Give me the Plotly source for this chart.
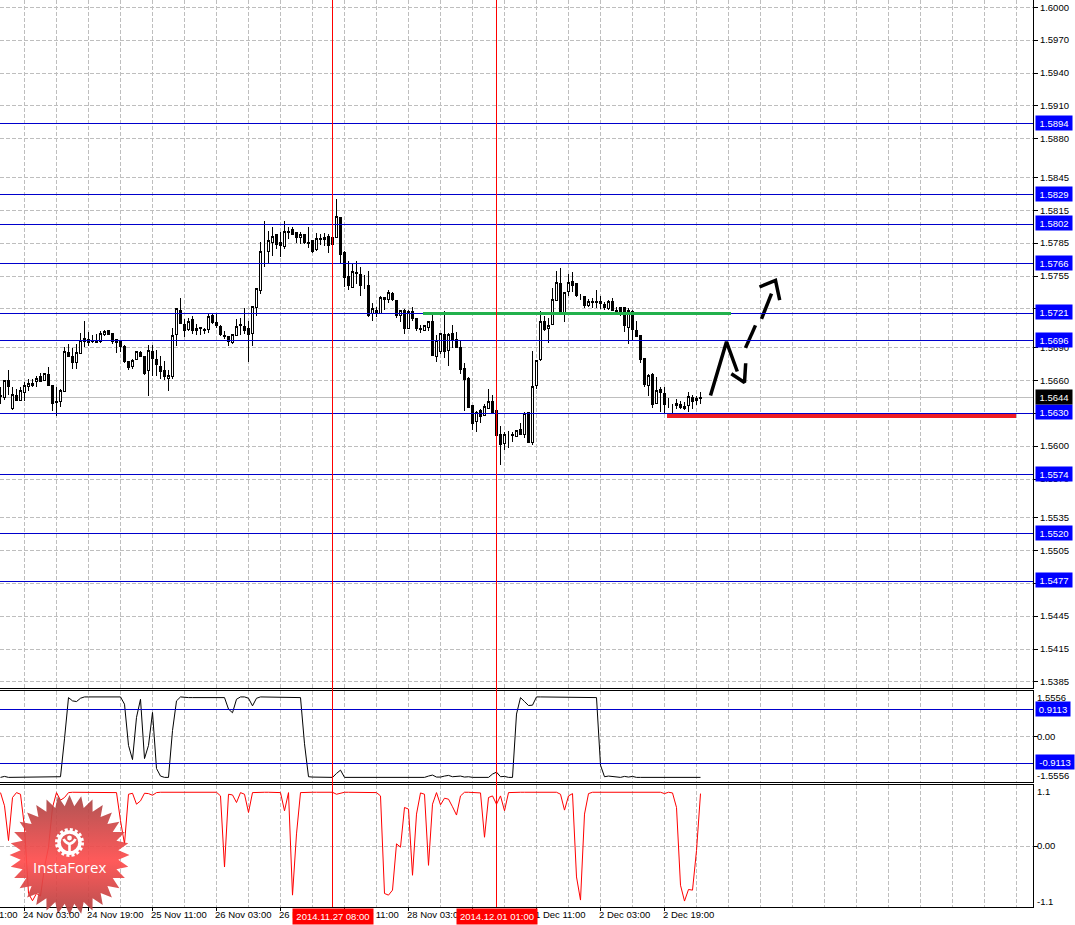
import base64
import numpy as np
import plotly.graph_objects as go

# ---- candle data (hourly GBP chart, index = bar number) ----
opens = [1.5646,1.5644,1.5660,1.5634,1.5646,1.5642,1.5649,1.5654,1.5657,1.5659,1.5663,1.5660,1.5665,1.5655,1.5641,1.5641,1.5650,1.5685,1.5682,1.5676,
1.5684,1.5695,1.5697,1.5696,1.5695,1.5695,1.5702,1.5705,1.5703,1.5697,1.5695,1.5691,1.5677,1.5673,1.5679,1.5685,1.5682,1.5669,1.5686,1.5679,
1.5673,1.5669,1.5662,1.5663,1.5702,1.5724,1.5711,1.5706,1.5715,1.5705,1.5708,1.5706,1.5706,1.5719,1.5713,1.5709,1.5701,1.5700,1.5694,1.5701,
1.5711,1.5709,1.5707,1.5703,1.5726,1.5742,1.5776,1.5777,1.5786,1.5793,1.5786,1.5782,1.5796,1.5797,1.5795,1.5790,1.5793,1.5786,1.5787,1.5779,
1.5789,1.5788,1.5791,1.5790,1.5790,1.5808,1.5776,1.5755,1.5745,1.5758,1.5756,1.5747,1.5746,1.5721,1.5724,1.5721,1.5735,1.5734,1.5739,1.5733,
1.5719,1.5724,1.5707,1.5723,1.5716,1.5707,1.5705,1.5708,1.5714,1.5682,1.5686,1.5702,1.5687,1.5703,1.5697,1.5690,1.5671,1.5662,1.5637,1.5622,
1.5632,1.5628,1.5634,1.5641,1.5632,1.5611,1.5602,1.5610,1.5611,1.5609,1.5615,1.5611,1.5631,1.5603,1.5655,1.5679,1.5714,1.5707,1.5711,1.5733,
1.5748,1.5720,1.5741,1.5750,1.5748,1.5737,1.5736,1.5728,1.5732,1.5732,1.5732,1.5729,1.5725,1.5732,1.5724,1.5726,1.5726,1.5708,1.5723,1.5705,
1.5701,1.5680,1.5655,1.5665,1.5639,1.5652,1.5648,1.5637,1.5636,1.5637,1.5638,1.5636,1.5637,1.5644,1.5643,1.5644]
highs = [1.5654,1.5660,1.5669,1.5654,1.5652,1.5654,1.5658,1.5661,1.5661,1.5664,1.5667,1.5667,1.5672,1.5655,1.5654,1.5652,1.5690,1.5693,1.5689,1.5693,
1.5703,1.5714,1.5704,1.5701,1.5702,1.5705,1.5706,1.5706,1.5703,1.5697,1.5697,1.5692,1.5677,1.5679,1.5687,1.5687,1.5682,1.5692,1.5692,1.5688,
1.5682,1.5678,1.5669,1.5708,1.5725,1.5735,1.5716,1.5717,1.5719,1.5711,1.5708,1.5708,1.5721,1.5720,1.5721,1.5710,1.5705,1.5700,1.5702,1.5716,
1.5717,1.5726,1.5714,1.5727,1.5744,1.5786,1.5805,1.5796,1.5800,1.5793,1.5795,1.5805,1.5800,1.5800,1.5795,1.5795,1.5793,1.5800,1.5788,1.5794,
1.5793,1.5794,1.5793,1.5793,1.5825,1.5808,1.5778,1.5769,1.5767,1.5769,1.5763,1.5756,1.5760,1.5730,1.5727,1.5737,1.5736,1.5742,1.5740,1.5733,
1.5724,1.5725,1.5724,1.5727,1.5716,1.5710,1.5710,1.5714,1.5721,1.5701,1.5703,1.5723,1.5703,1.5710,1.5704,1.5696,1.5676,1.5663,1.5637,1.5632,
1.5634,1.5638,1.5652,1.5647,1.5632,1.5618,1.5613,1.5614,1.5613,1.5615,1.5621,1.5631,1.5631,1.5687,1.5678,1.5723,1.5719,1.5717,1.5744,1.5760,
1.5762,1.5740,1.5757,1.5759,1.5748,1.5739,1.5737,1.5734,1.5735,1.5742,1.5737,1.5731,1.5733,1.5735,1.5727,1.5727,1.5726,1.5726,1.5724,1.5714,
1.5701,1.5680,1.5666,1.5667,1.5663,1.5654,1.5654,1.5644,1.5638,1.5643,1.5641,1.5640,1.5649,1.5647,1.5646,1.5649]
lows = [1.5638,1.5642,1.5647,1.5633,1.5641,1.5641,1.5641,1.5650,1.5654,1.5654,1.5659,1.5660,1.5655,1.5632,1.5627,1.5636,1.5649,1.5681,1.5670,1.5670,
1.5684,1.5690,1.5691,1.5694,1.5694,1.5694,1.5700,1.5701,1.5693,1.5685,1.5686,1.5676,1.5669,1.5670,1.5679,1.5681,1.5665,1.5646,1.5664,1.5664,
1.5661,1.5660,1.5650,1.5661,1.5691,1.5711,1.5699,1.5705,1.5702,1.5701,1.5701,1.5702,1.5703,1.5711,1.5708,1.5700,1.5698,1.5691,1.5693,1.5701,
1.5701,1.5702,1.5677,1.5691,1.5719,1.5739,1.5763,1.5767,1.5773,1.5780,1.5772,1.5780,1.5789,1.5792,1.5785,1.5784,1.5784,1.5781,1.5776,1.5778,
1.5783,1.5782,1.5776,1.5781,1.5790,1.5767,1.5745,1.5742,1.5745,1.5748,1.5737,1.5743,1.5718,1.5714,1.5718,1.5721,1.5724,1.5730,1.5732,1.5717,
1.5713,1.5702,1.5707,1.5714,1.5705,1.5703,1.5705,1.5705,1.5682,1.5677,1.5684,1.5680,1.5673,1.5689,1.5690,1.5666,1.5632,1.5635,1.5615,1.5613,
1.5621,1.5627,1.5634,1.5630,1.5610,1.5583,1.5596,1.5598,1.5604,1.5609,1.5610,1.5607,1.5603,1.5601,1.5652,1.5678,1.5705,1.5694,1.5711,1.5733,
1.5720,1.5713,1.5737,1.5740,1.5736,1.5733,1.5726,1.5727,1.5726,1.5726,1.5725,1.5724,1.5724,1.5723,1.5721,1.5719,1.5704,1.5693,1.5697,1.5699,
1.5676,1.5654,1.5646,1.5635,1.5638,1.5631,1.5630,1.5635,1.5629,1.5634,1.5634,1.5633,1.5631,1.5634,1.5637,1.5638]
closes = [1.5645,1.5660,1.5654,1.5647,1.5642,1.5651,1.5655,1.5657,1.5655,1.5662,1.5659,1.5666,1.5655,1.5639,1.5640,1.5651,1.5686,1.5682,1.5676,1.5685,
1.5696,1.5698,1.5694,1.5695,1.5694,1.5703,1.5704,1.5702,1.5695,1.5694,1.5691,1.5677,1.5672,1.5678,1.5686,1.5682,1.5666,1.5687,1.5680,1.5674,
1.5668,1.5663,1.5664,1.5701,1.5725,1.5712,1.5705,1.5714,1.5705,1.5707,1.5707,1.5705,1.5718,1.5713,1.5710,1.5702,1.5700,1.5695,1.5702,1.5709,
1.5710,1.5705,1.5702,1.5727,1.5744,1.5777,1.5776,1.5787,1.5791,1.5784,1.5783,1.5796,1.5795,1.5793,1.5790,1.5793,1.5786,1.5785,1.5777,1.5789,
1.5788,1.5790,1.5783,1.5784,1.5809,1.5775,1.5754,1.5746,1.5759,1.5757,1.5746,1.5747,1.5719,1.5725,1.5722,1.5735,1.5734,1.5740,1.5734,1.5719,
1.5724,1.5707,1.5723,1.5716,1.5707,1.5706,1.5710,1.5714,1.5683,1.5696,1.5703,1.5686,1.5702,1.5697,1.5690,1.5670,1.5661,1.5635,1.5621,1.5631,
1.5627,1.5636,1.5641,1.5631,1.5610,1.5601,1.5611,1.5610,1.5610,1.5614,1.5611,1.5630,1.5603,1.5654,1.5678,1.5714,1.5706,1.5710,1.5734,1.5749,
1.5722,1.5740,1.5749,1.5746,1.5737,1.5737,1.5728,1.5732,1.5731,1.5731,1.5730,1.5726,1.5732,1.5724,1.5723,1.5722,1.5710,1.5724,1.5706,1.5700,
1.5679,1.5656,1.5664,1.5638,1.5651,1.5649,1.5638,1.5637,1.5636,1.5639,1.5635,1.5634,1.5645,1.5641,1.5642,1.5643]

# ---- indicator values, one per bar ----
upper_indicator = [-1.398,-1.364,-1.398,-1.398,-1.398,-1.398,-1.387,-1.387,-1.387,-1.387,-1.375,-1.375,-1.375,-1.375,-1.375,-1.375,-0.079,1.330,1.218,1.195,
1.308,1.353,1.353,1.353,1.353,1.353,1.353,1.353,1.353,1.353,1.353,1.105,-0.304,-0.789,0.654,1.274,-0.755,-0.304,0.823,-1.094,
-1.353,-1.398,-1.398,0.203,1.218,1.353,1.330,1.330,1.330,1.330,1.330,1.330,1.330,1.330,1.330,1.353,1.330,0.936,0.812,1.274,
1.353,1.353,1.308,1.048,1.308,1.353,1.353,1.353,1.353,1.353,1.353,1.353,1.353,1.353,1.353,1.330,-0.248,-1.375,-1.387,-1.387,
-1.398,-1.398,-1.398,-1.398,-1.263,-1.150,-1.398,-1.398,-1.398,-1.398,-1.398,-1.398,-1.398,-1.398,-1.398,-1.398,-1.398,-1.398,-1.398,-1.398,
-1.398,-1.398,-1.398,-1.398,-1.398,-1.398,-1.398,-1.353,-1.319,-1.387,-1.387,-1.353,-1.330,-1.375,-1.364,-1.353,-1.387,-1.375,-1.398,-1.398,
-1.398,-1.398,-1.398,-1.285,-1.218,-1.375,-1.364,-1.398,-1.398,0.767,1.330,1.195,1.060,1.071,1.353,1.353,1.353,1.353,1.353,1.353,
1.353,1.353,1.353,1.353,1.353,1.353,1.353,1.353,1.353,1.330,-0.981,-1.375,-1.353,-1.375,-1.375,-1.398,-1.364,-1.387,-1.364,-1.398,
-1.398,-1.398,-1.398,-1.398,-1.398,-1.398,-1.398,-1.398,-1.398,-1.398,-1.398,-1.398,-1.398,-1.398,-1.398,-1.398]
lower_indicator = [0.963,0.725,0.098,0.874,0.963,0.933,0.337,-0.856,-0.987,-0.856,-0.903,-0.379,-0.021,0.695,0.963,0.826,0.874,0.963,0.969,0.969,
0.969,0.969,0.969,0.969,0.969,0.969,0.969,0.969,0.969,0.963,0.456,0.039,0.933,0.951,0.754,0.814,0.951,0.945,0.915,0.963,
0.969,0.969,0.969,0.969,0.969,0.969,0.969,0.969,0.969,0.969,0.969,0.969,0.969,0.969,0.969,0.903,-0.379,0.933,0.921,0.784,
0.963,0.933,0.605,0.963,0.969,0.969,0.969,0.969,0.969,0.969,0.963,0.635,0.963,-0.886,0.218,0.963,0.969,0.969,0.969,0.969,
0.969,0.969,0.969,0.969,0.933,0.957,0.969,0.969,0.969,0.969,0.969,0.957,0.969,0.969,0.963,0.903,-0.856,-0.886,-0.796,0.039,
-0.021,0.695,0.665,-0.528,0.575,0.957,0.933,-0.349,0.754,0.963,0.742,0.862,0.844,0.707,0.558,0.903,0.969,0.969,0.969,0.969,
0.957,0.158,0.874,0.903,0.754,0.903,0.635,0.963,0.969,0.969,0.969,0.969,0.969,0.969,0.969,0.969,0.969,0.969,0.969,0.969,
0.933,0.647,0.903,0.945,-0.558,-0.975,0.575,0.945,0.969,0.969,0.969,0.969,0.969,0.969,0.969,0.969,0.969,0.969,0.969,0.969,
0.969,0.969,0.969,0.969,0.969,0.969,0.945,0.969,0.957,0.695,-0.707,-0.993,-0.784,-0.796,-0.081,0.945]

# ---- levels and labels ----
blue_levels = [1.5894,1.5829,1.5802,1.5766,1.5721,1.5696,1.5630,1.5574,1.5520,1.5477]
last_price = 1.5644
price_ticks = [1.6000,1.5970,1.5940,1.5910,1.5880,1.5845,1.5815,1.5785,1.5755,1.5725,1.5690,1.5660,1.5630,1.5600,1.5570,1.5535,1.5505,1.5475,1.5445,1.5415,1.5385]
osc_levels = [0.9113,-0.9113]
time_labels = {6:"24 Nov 03:00",22:"24 Nov 19:00",38:"25 Nov 11:00",54:"26 Nov 03:00",70:"26 Nov 19:00",86:"27 Nov 11:00",102:"28 Nov 03:00",118:"28 Nov 19:00",134:"1 Dec 11:00",150:"2 Dec 03:00",166:"2 Dec 19:00"}
time_grid_major = [6,22,38,54,70,86,102,118,134,150,166]
time_grid_minor = [-2,14,30,46,62,78,94,110,126,142,158,174,182,190,198,206,214,222,230,238,246,254]
event_bars = [83,124]
event_labels = ["2014.11.27 08:00","2014.12.01 01:00"]

# drawn analysis marks: (bar, price) paths
arrow_x = [177.5,181.5,184.2,None,182.7,186,186.3,None,186.25,188.75,None,190.25,192.75,None,189.75,193.75,194.8]
arrow_y = [1.5646,1.5695,1.5668,None,1.5666,1.5658,1.56755,None,1.56895,1.5710,None,1.5716,1.5739,None,1.5745,1.5751,1.5733]
green_span = [105.5,182.5]; green_level = 1.5721
red_span = [166.5,253.75]; red_level = 1.56275

W, H = 1075, 925
PW, PH = 1033, 907  # plot area
FONT = "Liberation Sans"
FS = 9.5
GRID = "#bebebe"
DASH = "4px,2px"
BLUE = "#0000cc"
bars = list(range(len(opens)))

fig = go.Figure()
fig.add_trace(go.Candlestick(x=bars, open=opens, high=highs, low=lows, close=closes,
    xaxis="x", yaxis="y", whiskerwidth=0, hoverinfo="skip", showlegend=False,
    increasing=dict(line=dict(color="black", width=1), fillcolor="white"),
    decreasing=dict(line=dict(color="black", width=1), fillcolor="black")))
fig.add_trace(go.Scatter(x=arrow_x, y=arrow_y, mode="lines", line=dict(color="black", width=3.5),
    xaxis="x", yaxis="y", showlegend=False, hoverinfo="skip", connectgaps=False))
fig.add_trace(go.Scatter(x=bars, y=upper_indicator, mode="lines", line=dict(color="black", width=1),
    xaxis="x2", yaxis="y2", showlegend=False, hoverinfo="skip"))
fig.add_trace(go.Scatter(x=bars, y=lower_indicator, mode="lines", line=dict(color="red", width=1),
    xaxis="x3", yaxis="y3", showlegend=False, hoverinfo="skip"))

xr = [-0.125, 258.125]
xcommon = dict(range=xr, showgrid=True, gridcolor=GRID, griddash=DASH, gridwidth=1,
               tickmode="array", tickvals=time_grid_major, ticktext=[""]*len(time_grid_major),
               minor=dict(tickmode="array", tickvals=time_grid_minor, showgrid=True, gridcolor=GRID,
                          griddash=DASH, gridwidth=1, ticks=""),
               zeroline=False, showline=True, linecolor="black", linewidth=1, rangeslider=dict(visible=False))
ycommon = dict(side="right", showgrid=True, gridcolor=GRID, griddash=DASH, gridwidth=1, zeroline=False,
               showline=True, linecolor="black", linewidth=1, ticks="outside", ticklen=4, tickcolor="black",
               tickmode="array", tickfont=dict(family=FONT, size=FS, color="black"))

top = lambda px: 1 - px / PH
fig.update_layout(
    width=W, height=H, autosize=False, paper_bgcolor="white", plot_bgcolor="white",
    margin=dict(l=0, r=W-PW, t=0, b=H-PH), showlegend=False, boxgap=0.5,
    font=dict(family=FONT, size=FS, color="black"), dragmode=False,
    xaxis=dict(xcommon, anchor="y", ticks=""),
    xaxis2=dict(xcommon, anchor="y2", matches="x", ticks="", mirror=True),
    xaxis3=dict(xcommon, anchor="y3", matches="x", ticks="outside", ticklen=3, tickcolor="black", mirror=True),
    yaxis=dict(ycommon, domain=[top(688), 1], range=[1.53795, 1.60066], anchor="x",
               tickvals=price_ticks, ticktext=[f"{v:.4f}" for v in price_ticks]),
    yaxis2=dict(ycommon, domain=[top(782), top(691)], range=[-1.5556, 1.5556], anchor="x2",
                tickvals=[0], ticktext=["0.00"], ticklabelstandoff=-3),
    yaxis3=dict(ycommon, domain=[0, top(785)], range=[-1.1, 1.1], anchor="x3",
                tickvals=[0], ticktext=["0.00"], ticklabelstandoff=-3),
)

shapes = []
shapes.append(dict(type="line", xref="x domain", x0=0, x1=1, yref="y", y0=last_price, y1=last_price,
                   line=dict(color=GRID, width=1), layer="below"))
for lv in blue_levels:
    shapes.append(dict(type="line", xref="x domain", x0=0, x1=1, yref="y", y0=lv, y1=lv,
                       line=dict(color=BLUE, width=1), layer="above"))
for lv in osc_levels:
    shapes.append(dict(type="line", xref="x2 domain", x0=0, x1=1, yref="y2", y0=lv, y1=lv,
                       line=dict(color=BLUE, width=1), layer="above"))
shapes.append(dict(type="line", xref="x", x0=green_span[0], x1=green_span[1], yref="y", y0=green_level, y1=green_level,
                   line=dict(color="#22b14c", width=3.5), layer="above"))
shapes.append(dict(type="line", xref="x", x0=red_span[0], x1=red_span[1], yref="y", y0=red_level, y1=red_level,
                   line=dict(color="#ed1c24", width=3.5), layer="above"))
for b in event_bars:
    shapes.append(dict(type="line", xref="x", x0=b, x1=b, yref="paper", y0=0, y1=1,
                       line=dict(color="red", width=1), layer="above"))
fig.update_layout(shapes=shapes)

ann = []
def box(text, yref, y, bg, width):
    ann.append(dict(text=text, xref="paper", x=1, xanchor="left", xshift=2, yref=yref, y=y, yanchor="middle", yshift=1,
                    showarrow=False, bgcolor=bg, width=width, height=14, borderpad=0, align="center",
                    font=dict(family=FONT, size=FS, color="white")))
for lv in blue_levels:
    box(f"{lv:.4f}", "y", lv, "#0000ff", 36)
box(f"{last_price:.4f}", "y", last_price, "black", 36)
box("0.9113", "y2", 0.9113, "#0000ff", 34)
box("-0.9113", "y2", -0.9113, "#0000ff", 38)
for txt, yref, y, ysh in [("1.5556","y2",1.5556,-6),("-1.5556","y2",-1.5556,7),("1.1","y3",1.1,-6),("-1.1","y3",-1.1,6)]:
    ann.append(dict(text=txt, xref="paper", x=1, xanchor="left", xshift=3, yref=yref, y=y, yanchor="middle", yshift=ysh,
                    showarrow=False, borderpad=0, font=dict(family=FONT, size=FS, color="black")))
# time labels start at their tick
ann.append(dict(text="1:00", xref="x3", x=xr[0], xanchor="left", xshift=-2, yref="paper", y=0, yanchor="top", yshift=-1,
                showarrow=False, borderpad=0, font=dict(family=FONT, size=FS, color="black")))
for b, txt in time_labels.items():
    ann.append(dict(text=txt, xref="x3", x=b, xanchor="left", xshift=-3, yref="paper", y=0, yanchor="top", yshift=-1,
                    showarrow=False, borderpad=0, font=dict(family=FONT, size=FS, color="black")))
for b, txt in zip(event_bars, event_labels):
    ann.append(dict(text=txt, xref="x3", x=b, xanchor="center", yref="paper", y=0, yanchor="top", yshift=-1,
                    showarrow=False, bgcolor="red", width=80, height=15, borderpad=0,
                    font=dict(family=FONT, size=FS, color="white")))
# logo word
ann.append(dict(text="InstaForex", xref="paper", x=69.5/PW, xanchor="center", yref="paper", y=(PH-867)/PH, yanchor="middle",
                showarrow=False, font=dict(family="Open Sans", size=15, color="white")))
fig.update_layout(annotations=ann)

# logo badge: vertical-gradient starburst with gear, as an inline SVG
N = 32
ang = np.arange(2*N) * np.pi / N - np.pi/2
rad = np.where(np.arange(2*N) % 2 == 0, 60, 49)
star = " ".join(f"{60+r*np.cos(a):.1f},{60+r*np.sin(a):.1f}" for r, a in zip(rad, ang))
svg = f'''<svg xmlns="http://www.w3.org/2000/svg" width="120" height="120" viewBox="0 0 120 120">
<defs><linearGradient id="g" x1="0" y1="0" x2="0" y2="1">
<stop offset="0" stop-color="#a84545"/><stop offset="0.55" stop-color="#ff4c4c"/><stop offset="1" stop-color="#b04040"/>
</linearGradient></defs>
<polygon points="{star}" fill="url(#g)" fill-opacity="0.92"/>
<circle cx="60" cy="47.5" r="10.5" fill="none" stroke="white" stroke-width="3.5"/>
<circle cx="60" cy="47.5" r="13" fill="none" stroke="white" stroke-width="3" stroke-dasharray="3 2.1"/>
<path d="M54 44 Q56 48 60 49 Q64 48 66 44 M60 49 V60" fill="none" stroke="white" stroke-width="2.6"/>
<circle cx="60" cy="43" r="2.4" fill="white"/>
</svg>'''
uri = "data:image/svg+xml;base64," + base64.b64encode(svg.encode()).decode()
fig.update_layout(images=[dict(source=uri, xref="paper", yref="paper", x=9.5/PW, y=(PH-795)/PH,
                               sizex=120/PW, sizey=120/PH, sizing="stretch", xanchor="left", yanchor="top", layer="above")])

post = """
document.body.style.margin='0';
document.documentElement.style.overflow='hidden';
document.querySelectorAll('.shapelayer path, .boxlayer path').forEach(function(p){p.style.shapeRendering='crispEdges';});
"""
fig.write_html("out.html", config=dict(displayModeBar=False), post_script=post)
